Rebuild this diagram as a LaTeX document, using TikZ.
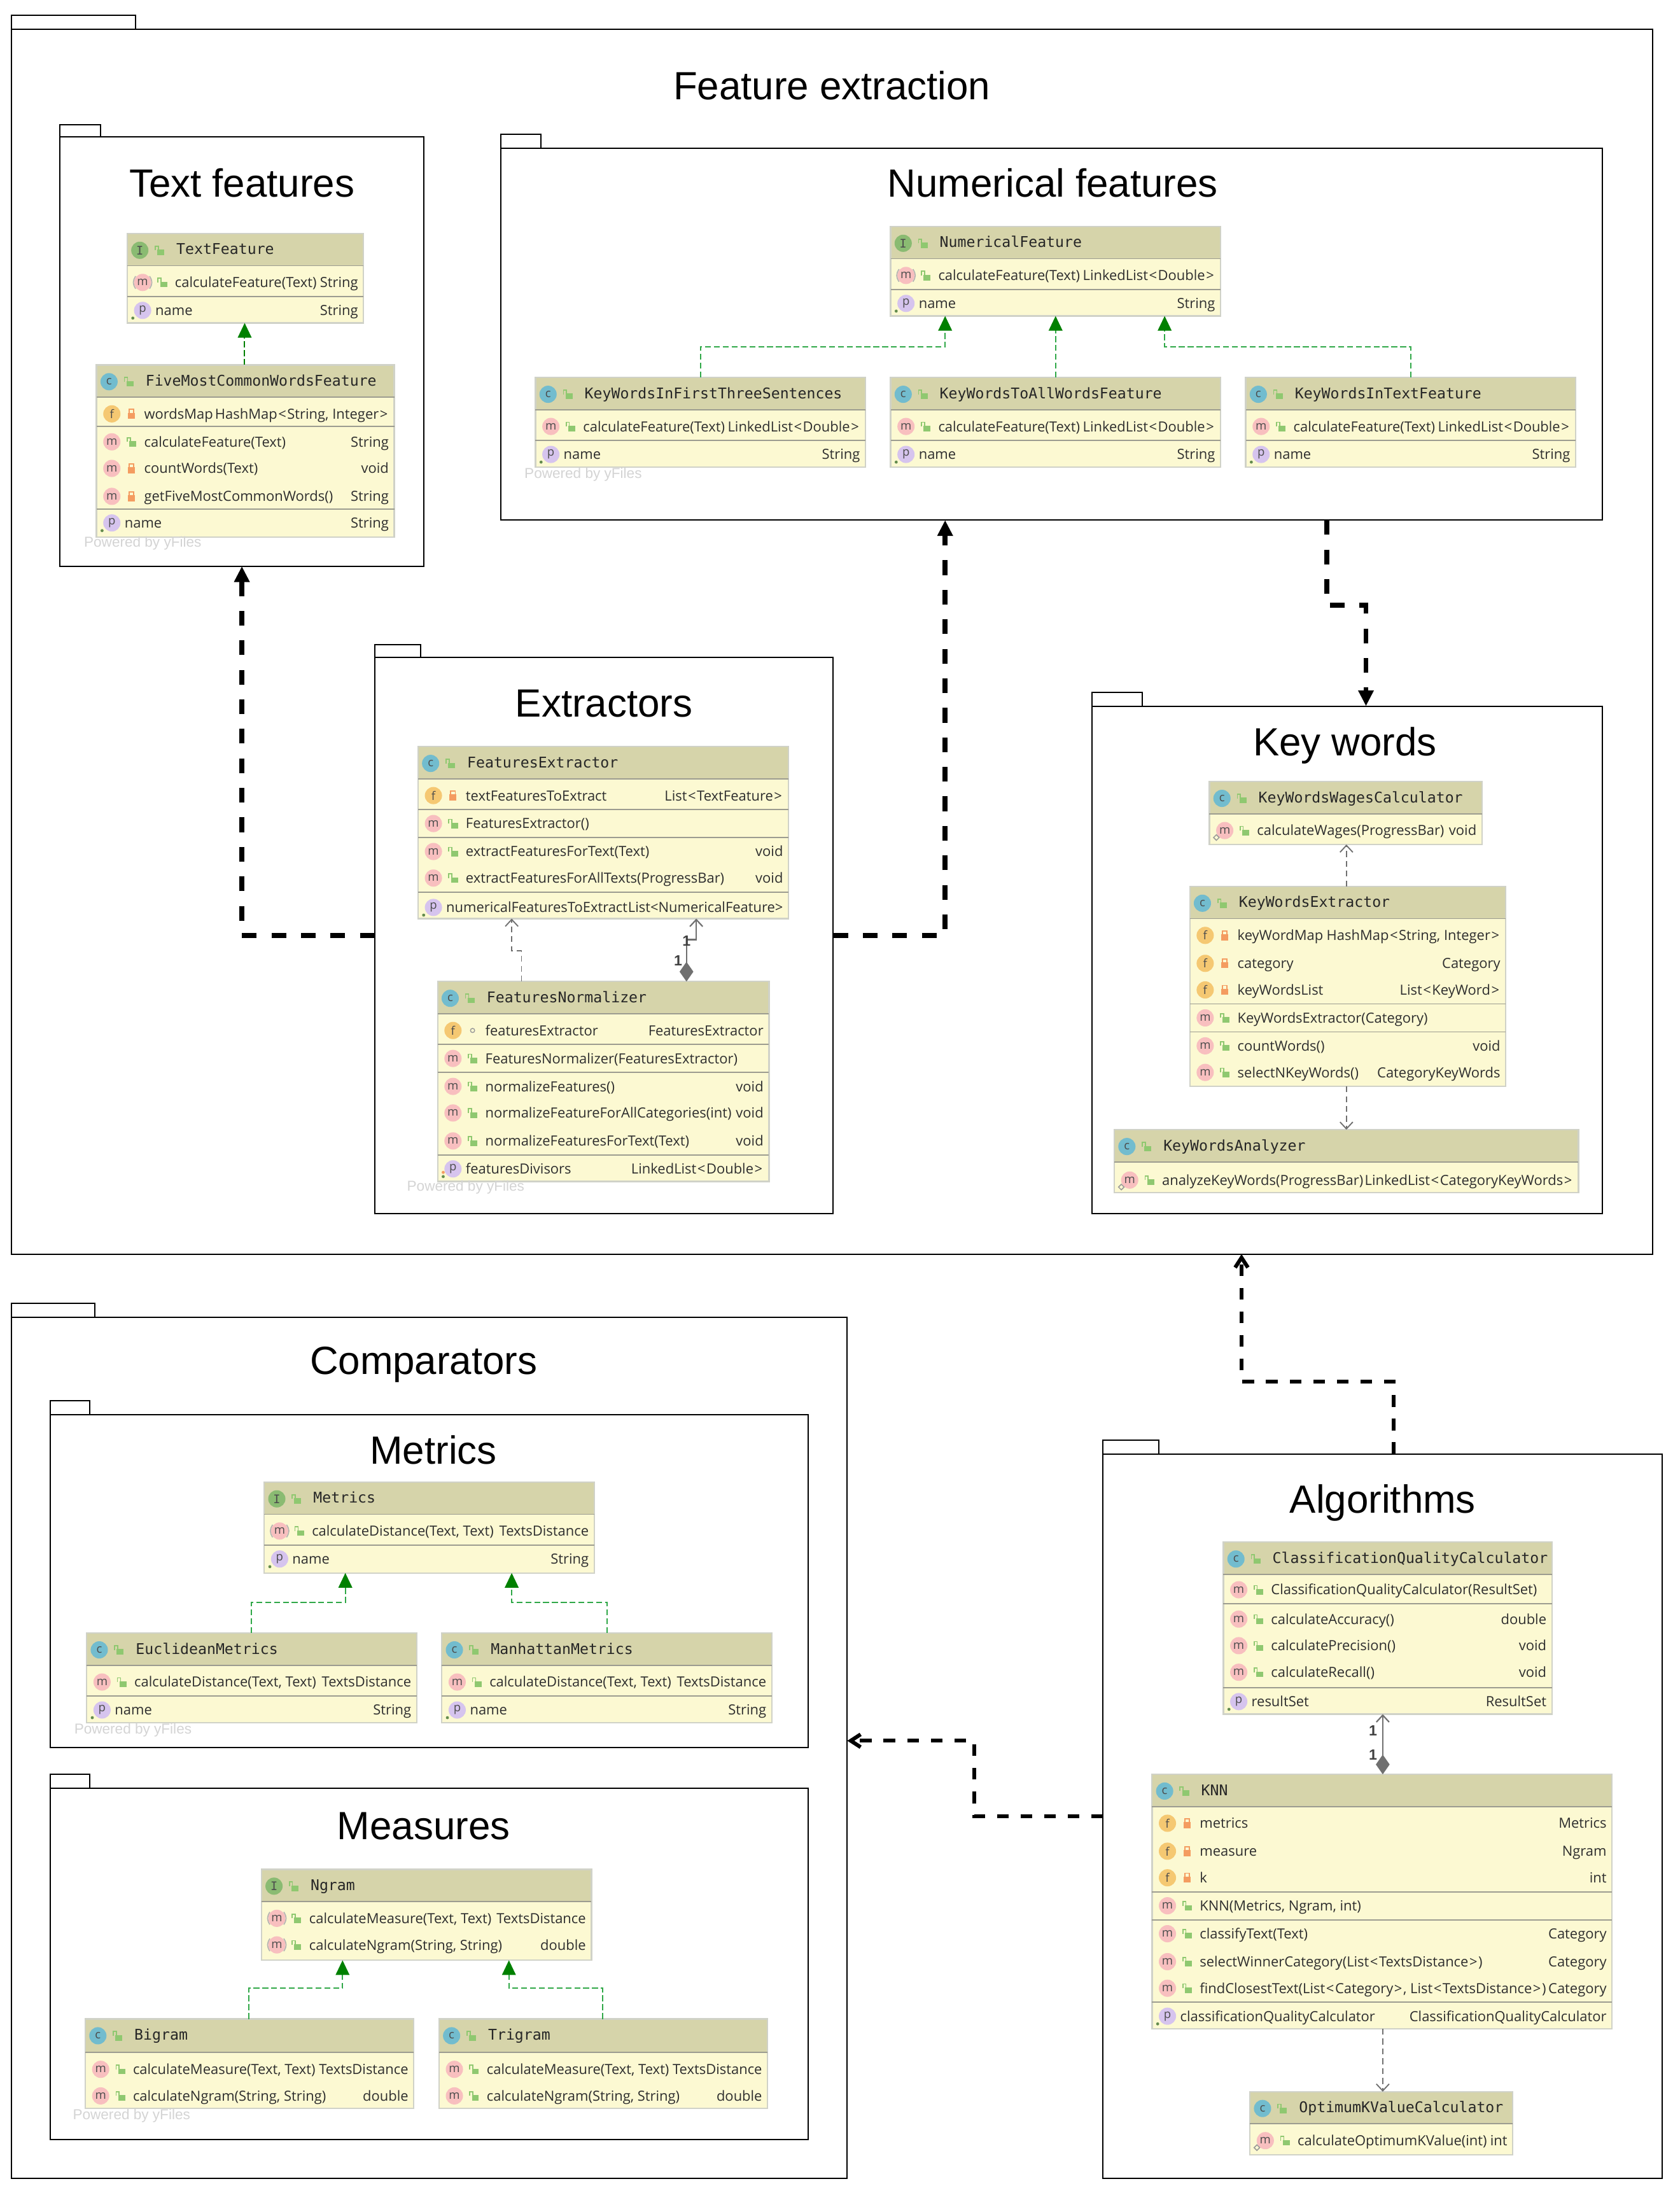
\documentclass[tikz,border=0pt]{standalone}
\usepackage{fontspec}
\setmainfont{Liberation Sans}
\newfontfamily\rowfont{Open Sans}
\newfontfamily\headfont{DejaVu Sans Mono}
\usetikzlibrary{fit,arrows.meta,shapes.geometric}

\definecolor{headfill}{HTML}{D6D4AA}
\definecolor{rowfill}{HTML}{FCF9D2}
\definecolor{boxedge}{HTML}{D0D2C8}
\definecolor{sepline}{HTML}{9C9C90}
\definecolor{iconm}{HTML}{F8BFBF}
\definecolor{iconf}{HTML}{F5C872}
\definecolor{iconc}{HTML}{72BCCE}
\definecolor{iconI}{HTML}{8ABB72}
\definecolor{iconp}{HTML}{D6C4EE}
\definecolor{lockpub}{HTML}{8FC870}
\definecolor{lockpriv}{HTML}{F49C60}
\definecolor{realizegreen}{HTML}{008000}
\definecolor{realizeline}{HTML}{30A848}
\definecolor{usegray}{HTML}{707070}

\tikzset{
    pkgline/.style={draw=black,line width=1.3pt},
    pkgbox/.style={pkgline,inner sep=0pt,outer sep=0pt,rectangle},
    pkgtitle/.style={font=\fontsize{40}{40}\selectfont,inner sep=0pt},
    classbox/.style={draw=boxedge,fill=rowfill,line width=1.5pt,inner sep=0pt,outer sep=0pt,rectangle},
    classhead/.style={font=\headfont\fontsize{15}{15}\selectfont,text=black!85,inner sep=0pt,anchor=base west},
    classtext/.style={font=\rowfont\fontsize{14.2}{14.2}\selectfont,text=black!82,inner sep=0pt},
    classsep/.style={draw=sepline,line width=1.2pt},
    rowicon/.style={circle,inner sep=0pt,minimum size=17.5pt,text=black!70,
        font=\rowfont\fontsize{12}{12}\selectfont},
    yfiles/.style={font=\fontsize{14.6}{14.6}\selectfont,text=black!17,inner sep=0pt,anchor=base west},
    multlabel/.style={font=\fontsize{15}{15}\selectfont\bfseries,text=black!75,inner sep=0pt},
    realize/.style={draw=realizeline,line width=1.3pt,dash pattern=on 6pt off 3pt,
        -{Triangle[length=15pt,width=14pt,fill=realizegreen,color=realizegreen]}},
    depend/.style={draw=usegray,line width=1.2pt,dash pattern=on 6pt off 4pt,
        -{Straight Barb[length=7pt,width=13pt]}},
    assoc/.style={draw=usegray,line width=1.4pt,
        {Diamond[length=20pt,width=14pt,fill=usegray]}-{Straight Barb[length=7pt,width=13pt]}},
    pkgdep/.style={draw=black,line width=5pt,dash pattern=on 15pt off 15pt,
        -{Triangle[length=16pt,width=15pt]}},
    pkguse/.style={draw=black,line width=3.9pt,dash pattern=on 12pt off 12pt,
        -{Straight Barb[length=10pt,width=13pt]}},
}

\newcounter{rowcnt}
\newcommand{\ltk}{\kern1pt<\kern1pt}
\newcommand{\gtk}{\kern1pt>\kern1pt}

% name, corner, corner, tab corner, title position, title
\newcommand{\umlpackage}[6]{
    \draw[pkgline] (#2) rectangle (#4);
    \node (#1) [pkgbox,fit={(#2) (#3)}] {};
    \node (#1Title) [pkgtitle] at (#5) {#6};
}
% name, x1, x2, y1, y header, y2, kind, title
\newcommand{\umlclass}[8]{
    \gdef\xl{#2}\gdef\xr{#3}\gdef\cname{#1}
    \node (#1) [classbox,fit={(#2,#4) (#3,#6)}] {};
    \fill[headfill] (#2+.5,#4+.5) rectangle (#3-.5,#5);
    \draw[classsep] (#2,#5) -- (#3,#5);
    \node (#1Icon) [rowicon,fill=icon#7] at (#2+9,#4+12) {\ifx#7I{\headfont I}\else #7\fi};
    \publock{#2+23}{#4+12}
    \node (#1Head) [classhead] at (#2+35,#4+15) {#8};
}
\newcommand{\classsepat}[1]{\draw[classsep] (\xl,#1) -- (\xr,#1);}
\newcommand{\publock}[2]{
    \fill[lockpub] (#1-1.5,#2-.5) rectangle (#1+3.5,#2+3.5);
    \draw[lockpub,line width=1.1pt] (#1-3,#2) -- (#1-3,#2-3) -- (#1-.8,#2-3) -- (#1-.8,#2);
}
\newcommand{\privlock}[2]{
    \fill[lockpriv] (#1-2.5,#2-.8) rectangle (#1+2.5,#2+3.5);
    \draw[lockpriv,line width=1.1pt] (#1-1.6,#2-.8) -- (#1-1.6,#2-3.2) -- (#1+1.6,#2-3.2) -- (#1+1.6,#2-.8);
}
% kind, access, y, left text, right text
\newcommand{\classrow}[5]{
    \stepcounter{rowcnt}
    \node (\cname Icon\arabic{rowcnt}) [rowicon,fill=icon#1] at (\xl+11,#3) {#1};
    \ifx#2n\relax\else\ifx#2a\publock{\xl+25}{#3}\else\privlock{\xl+25}{#3}\fi\fi
    \ifx#1p
        \fill[lockpub!70!black] (\xl+4,#3+5.5) circle (1.1);
        \node (\cname Left\arabic{rowcnt}) [classtext,anchor=base west] at (\xl+20,#3+3.6) {#4};
    \else
        \node (\cname Left\arabic{rowcnt}) [classtext,anchor=base west] at (\xl+34,#3+3.6) {#4};
    \fi
    \node (\cname Right\arabic{rowcnt}) [classtext,anchor=base east] at (\xr-3.8,#3+3.6) {#5};
}
\newcommand{\absmark}[1]{
    \draw[black!30,line width=1pt] (\xl+6,#1-4.5) .. controls (\xl+3.8,#1-1) and (\xl+3.8,#1+1) .. (\xl+6,#1+4.5);
    \draw[black!30,line width=1pt] (\xl+16,#1-4.5) .. controls (\xl+18.2,#1-1) and (\xl+18.2,#1+1) .. (\xl+16,#1+4.5);
}
\newcommand{\keymark}[1]{
    \draw[black!40,line width=1pt] (\xl+3,#1+5) -- (\xl+5,#1+3) -- (\xl+7,#1+5) -- (\xl+5,#1+7) -- cycle;
}

\begin{document}
\begin{tikzpicture}[x=.04995cm,y=-.04995cm]
    \fill[white] (0,0) rectangle (1201.2,1568.47);
    \useasboundingbox (0,0) rectangle (1201.2,1568.47);

    % packages
    \umlpackage{FeatureExtraction}{8,21}{1182,897}{97,11}{595,61}{Feature extraction}
    \umlpackage{TextFeatures}{43,98}{303,405}{72,89}{173,131}{Text features}
    \umlpackage{NumericalFeatures}{358,106}{1146,372}{387,96}{753,131}{Numerical features}
    \umlpackage{Extractors}{268,470}{596,868}{301,461}{432,503}{Extractors}
    \umlpackage{KeyWords}{781,505}{1146,868}{817,495}{962,533}{Key words}
    \umlpackage{Comparators}{8,942}{606,1558}{68,932}{303,976}{Comparators}
    \umlpackage{MetricsPkg}{36,1012}{578,1250}{64,1002}{310,1037}{Metrics}
    \umlpackage{Measures}{36,1279}{578,1530}{64,1269}{303,1306}{Measures}
    \umlpackage{Algorithms}{789,1040}{1189,1558}{829,1030}{989,1075}{Algorithms}

    % text features
    \umlclass{TextFeature}{91}{260}{167}{190}{231}{I}{TextFeature}
    \classrow{m}{a}{202}{calculateFeature(Text)}{String} \absmark{202}
    \classsepat{212}
    \classrow{p}{n}{222}{name}{String}

    \umlclass{FiveMost}{69}{282}{261}{284}{384}{c}{FiveMostCommonWordsFeature}
    \classrow{f}{p}{296}{wordsMap}{HashMap\ltk String, Integer\gtk}
    \classsepat{305}
    \classrow{m}{a}{316}{calculateFeature(Text)}{String}
    \classrow{m}{p}{335}{countWords(Text)}{void}
    \classrow{m}{p}{355}{getFiveMostCommonWords()}{String}
    \classsepat{364}
    \classrow{p}{n}{374}{name}{String}
    \node (PoweredA) [yfiles] at (60,391) {Powered by yFiles};

    % numerical features
    \umlclass{NumericalFeature}{637}{873}{162}{185}{226}{I}{NumericalFeature}
    \classrow{m}{a}{197}{calculateFeature(Text)}{LinkedList\ltk Double\gtk} \absmark{197}
    \classsepat{207}
    \classrow{p}{n}{217}{name}{String}

    \umlclass{FirstThree}{383}{619}{270}{293}{334}{c}{KeyWordsInFirstThreeSentences}
    \classrow{m}{a}{305}{calculateFeature(Text)}{LinkedList\ltk Double\gtk}
    \classsepat{315}
    \classrow{p}{n}{325}{name}{String}

    \umlclass{ToAllWords}{637}{873}{270}{293}{334}{c}{KeyWordsToAllWordsFeature}
    \classrow{m}{a}{305}{calculateFeature(Text)}{LinkedList\ltk Double\gtk}
    \classsepat{315}
    \classrow{p}{n}{325}{name}{String}

    \umlclass{InText}{891}{1127}{270}{293}{334}{c}{KeyWordsInTextFeature}
    \classrow{m}{a}{305}{calculateFeature(Text)}{LinkedList\ltk Double\gtk}
    \classsepat{315}
    \classrow{p}{n}{325}{name}{String}
    \node (PoweredB) [yfiles] at (375,342) {Powered by yFiles};

    % extractors
    \umlclass{FeaturesExtractor}{299}{564}{534}{557}{657}{c}{FeaturesExtractor}
    \classrow{f}{p}{569}{textFeaturesToExtract}{List\ltk TextFeature\gtk}
    \classsepat{579}
    \classrow{m}{a}{589}{FeaturesExtractor()}{}
    \classsepat{599}
    \classrow{m}{a}{609}{extractFeaturesForText(Text)}{void}
    \classrow{m}{a}{628}{extractFeaturesForAllTexts(ProgressBar)}{void}
    \classsepat{638}
    \classrow{p}{n}{649}{numericalFeaturesToExtract}{List<NumericalFeature>}

    \umlclass{FeaturesNormalizer}{313}{550}{702}{725}{845}{c}{FeaturesNormalizer}
    \classrow{f}{n}{737}{featuresExtractor}{FeaturesExtractor}
    \draw[black!40,line width=.9pt] (\xl+25,737) circle (1.5);
    \classsepat{747}
    \classrow{m}{a}{757}{FeaturesNormalizer(FeaturesExtractor)}{}
    \classsepat{767}
    \classrow{m}{a}{777}{normalizeFeatures()}{void}
    \classrow{m}{a}{796}{normalizeFeatureForAllCategories(int)}{void}
    \classrow{m}{a}{816}{normalizeFeaturesForText(Text)}{void}
    \classsepat{826}
    \classrow{p}{n}{836}{featuresDivisors}{LinkedList\ltk Double\gtk}
    \fill[lockpriv] (\xl+4,838.5) circle (1.1);
    \node (PoweredC) [yfiles] at (291,852) {Powered by yFiles};

    % key words
    \umlclass{WagesCalc}{865}{1060}{559}{582}{604}{c}{KeyWordsWagesCalculator}
    \classrow{m}{a}{594}{calculateWages(ProgressBar)}{void} \keymark{594}

    \umlclass{WordsExtractor}{851}{1077}{634}{657}{777}{c}{KeyWordsExtractor}
    \classrow{f}{p}{669}{keyWordMap}{HashMap\ltk String, Integer\gtk}
    \classrow{f}{p}{689}{category}{Category}
    \classrow{f}{p}{708}{keyWordsList}{List\ltk KeyWord\gtk}
    \classsepat{718}
    \classrow{m}{a}{728}{KeyWordsExtractor(Category)}{}
    \classsepat{738}
    \classrow{m}{a}{748}{countWords()}{void}
    \classrow{m}{a}{767}{selectNKeyWords()}{CategoryKeyWords}

    \umlclass{WordsAnalyzer}{797}{1129}{808}{831}{853}{c}{KeyWordsAnalyzer}
    \classrow{m}{a}{844}{analyzeKeyWords(ProgressBar)}{LinkedList\ltk CategoryKeyWords\gtk} \keymark{844}

    % metrics
    \umlclass{Metrics}{189}{425}{1060}{1083}{1125}{I}{Metrics}
    \classrow{m}{a}{1095}{calculateDistance(Text, Text)}{TextsDistance} \absmark{1095}
    \classsepat{1105}
    \classrow{p}{n}{1115}{name}{String}

    \umlclass{Euclidean}{62}{298}{1168}{1191}{1232}{c}{EuclideanMetrics}
    \classrow{m}{a}{1203}{calculateDistance(Text, Text)}{TextsDistance}
    \classsepat{1213}
    \classrow{p}{n}{1223}{name}{String}

    \umlclass{Manhattan}{316}{552}{1168}{1191}{1232}{c}{ManhattanMetrics}
    \classrow{m}{a}{1203}{calculateDistance(Text, Text)}{TextsDistance}
    \classsepat{1213}
    \classrow{p}{n}{1223}{name}{String}
    \node (PoweredD) [yfiles] at (53,1240) {Powered by yFiles};

    % measures
    \umlclass{Ngram}{187}{423}{1337}{1360}{1402}{I}{Ngram}
    \classrow{m}{a}{1372}{calculateMeasure(Text, Text)}{TextsDistance} \absmark{1372}
    \classrow{m}{a}{1391}{calculateNgram(String, String)}{double} \absmark{1391}

    \umlclass{Bigram}{61}{296}{1444}{1468}{1508}{c}{Bigram}
    \classrow{m}{a}{1480}{calculateMeasure(Text, Text)}{TextsDistance}
    \classrow{m}{a}{1499}{calculateNgram(String, String)}{double}

    \umlclass{Trigram}{314}{549}{1444}{1468}{1508}{c}{Trigram}
    \classrow{m}{a}{1480}{calculateMeasure(Text, Text)}{TextsDistance}
    \classrow{m}{a}{1499}{calculateNgram(String, String)}{double}
    \node (PoweredE) [yfiles] at (52,1516) {Powered by yFiles};

    % algorithms
    \umlclass{QualityCalc}{875}{1110}{1103}{1126}{1226}{c}{ClassificationQualityCalculator}
    \classrow{m}{a}{1137}{ClassificationQualityCalculator(ResultSet)}{}
    \classsepat{1147}
    \classrow{m}{a}{1158}{calculateAccuracy()}{double}
    \classrow{m}{a}{1177}{calculatePrecision()}{void}
    \classrow{m}{a}{1196}{calculateRecall()}{void}
    \classsepat{1207}
    \classrow{p}{n}{1217}{resultSet}{ResultSet}

    \umlclass{KNN}{824}{1153}{1269}{1292}{1451}{c}{KNN}
    \classrow{f}{p}{1304}{metrics}{Metrics}
    \classrow{f}{p}{1324}{measure}{Ngram}
    \classrow{f}{p}{1343}{k}{int}
    \classsepat{1353}
    \classrow{m}{a}{1363}{KNN(Metrics, Ngram, int)}{}
    \classsepat{1373}
    \classrow{m}{a}{1383}{classifyText(Text)}{Category}
    \classrow{m}{a}{1403}{selectWinnerCategory(List\ltk TextsDistance\gtk)}{Category}
    \classrow{m}{a}{1422}{findClosestText(List\ltk Category\gtk, List\ltk TextsDistance\gtk)}{Category}
    \classsepat{1432}
    \classrow{p}{n}{1442}{classificationQualityCalculator}{ClassificationQualityCalculator}

    \umlclass{OptimumK}{894}{1082}{1496}{1519}{1541}{c}{OptimumKValueCalculator}
    \classrow{m}{a}{1531}{calculateOptimumKValue(int)}{int} \keymark{1531}

    % realization arrows
    \draw[realize,draw=realizegreen] (FiveMost.north -| 175,0) -- (TextFeature.south -| 175,0);
    \draw[realize] (FirstThree.north -| 501,0) |- (676,248) -- (NumericalFeature.south -| 676,0);
    \draw[realize] (ToAllWords.north -| 755,0) -- (NumericalFeature.south -| 755,0);
    \draw[realize] (InText.north -| 1009,0) |- (833,248) -- (NumericalFeature.south -| 833,0);
    \draw[realize] (Euclidean.north -| 180,0) |- (247,1146) -- (Metrics.south -| 247,0);
    \draw[realize] (Manhattan.north -| 434,0) |- (366,1146) -- (Metrics.south -| 366,0);
    \draw[realize] (Bigram.north -| 178,0) |- (245,1422) -- (Ngram.south -| 245,0);
    \draw[realize] (Trigram.north -| 431,0) |- (364,1422) -- (Ngram.south -| 364,0);

    % dependencies inside packages
    \draw[depend] (FeaturesNormalizer.north -| 373,0) |- (366,680) -- (FeaturesExtractor.south -| 366,0);
    \draw[depend] (WordsExtractor.north -| 963,0) -- (WagesCalc.south -| 963,0);
    \draw[depend] (WordsExtractor.south -| 963,0) -- (WordsAnalyzer.north -| 963,0);
    \draw[depend] (KNN.south -| 989,0) -- (OptimumK.north -| 989,0);

    % compositions
    \draw[assoc] (FeaturesNormalizer.north -| 491,0) |- (498,672) -- (FeaturesExtractor.south -| 498,0);
    \node (MultA) [multlabel] at (491,673) {1};
    \node (MultB) [multlabel] at (485,687) {1};
    \draw[assoc] (KNN.north -| 989,0) -- (QualityCalc.south -| 989,0);
    \node (MultC) [multlabel] at (982,1238) {1};
    \node (MultD) [multlabel] at (982,1255) {1};

    % package dependencies
    \draw[pkgdep] (Extractors.west |- 0,669) -| (TextFeatures.south -| 173,0);
    \draw[pkgdep] (Extractors.east |- 0,669) -| (NumericalFeatures.south -| 676,0);
    \draw[pkgdep] (NumericalFeatures.south -| 949,0) |- (977,433) -- (KeyWords.north -| 977,0);
    \draw[pkguse] (Algorithms.north -| 997,0) |- (888,988) -- (FeatureExtraction.south -| 888,0);
    \draw[pkguse] (Algorithms.west |- 0,1299) -| (697,1245) -- (Comparators.east |- 0,1245);
\end{tikzpicture}
\end{document}
